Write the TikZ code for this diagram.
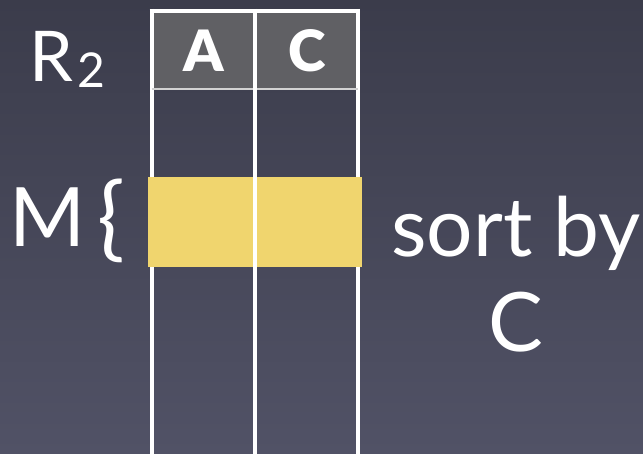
\documentclass[tikz,border=0pt]{standalone}
\usepackage{fontspec}
\setmainfont{Lato}
\newfontfamily\hdrfont{Lato Black}
\definecolor{bgtop}{HTML}{3B3C4B}
\definecolor{bgbot}{HTML}{515266}
\definecolor{hdrfill}{HTML}{606064}
\definecolor{hl}{HTML}{F0D56E}
\begin{document}
\begin{tikzpicture}[x=1pt,y=-1pt,
  grid/.style={white, line width=4pt},
  big/.style={text=white, inner sep=0pt, anchor=base west, font=\fontsize{82}{82}\selectfont},
  hdrtext/.style={text=white, inner sep=0pt, anchor=base, font=\hdrfont\fontsize{57}{57}\selectfont}]
\shade[top color=bgtop, bottom color=bgbot] (0,0) rectangle (643,454);
\useasboundingbox (0,0) rectangle (643,454);
\fill[hdrfill] (152,11) rectangle (357,89);
\node[hdrtext] (ha) at (203.5,72) {A};
\node[hdrtext] (hc) at (307.5,72) {C};
\draw[grid] (151.5,9) -- (151.5,460);
\draw[grid] (357.5,9) -- (357.5,460);
\draw[grid] (149.5,11) -- (359.5,11);
\draw[line width=2pt, gray!35!white] (151.5,89.5) -- (357.5,89.5);
\fill[hl] (148,177) rectangle (362,267);
\draw[grid] (254.5,9) -- (254.5,460);
\node[big, font=\fontsize{70}{70}\selectfont] (r) at (29,82) {R};
\node[big, font=\fontsize{48}{48}\selectfont] (sub) at (77,88) {2};
\node[big] (m) at (9,247) {M};
\node[big, font=\fontsize{92}{92}\selectfont] (brace) at (97,250) {\{};
\node[big] (sortby) at (391,257) {sort by};
\node[big, anchor=base] (c) at (516,352) {C};
\end{tikzpicture}
\end{document}
